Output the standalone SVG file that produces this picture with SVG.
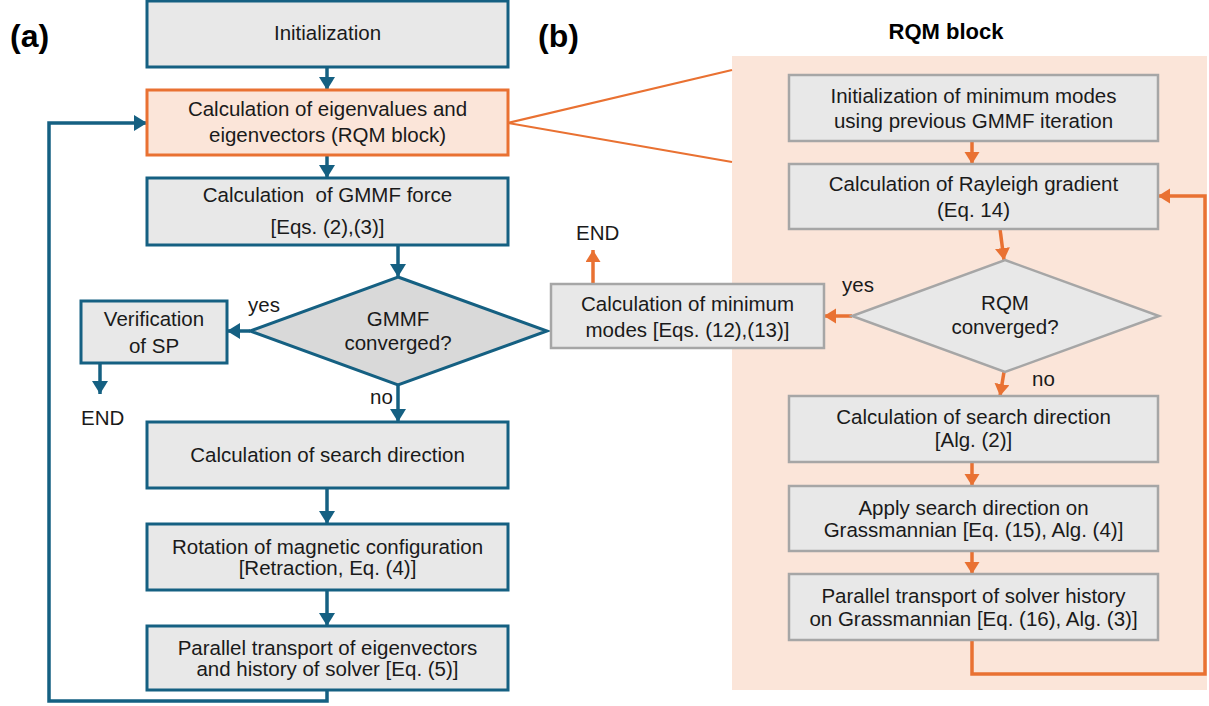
<svg xmlns="http://www.w3.org/2000/svg" width="1209" height="706" viewBox="0 0 1209 706">
<defs>
<style>
.t{font-family:"Liberation Sans",Arial,sans-serif;font-size:20.5px;fill:#1a1a1a;text-anchor:middle}
.l{font-family:"Liberation Sans",Arial,sans-serif;font-size:20.5px;fill:#1a1a1a}
.b{font-family:"Liberation Sans",Arial,sans-serif;font-weight:bold;fill:#000}
.bx{fill:#E8E8E8;stroke:#156082;stroke-width:3}
.gx{fill:#E8E8E8;stroke:#A6A6A6;stroke-width:2.5}
.bc{fill:none;stroke:#156082;stroke-width:3.5}
.oc{fill:none;stroke:#E97132;stroke-width:3.5}
</style>
<marker id="ab" markerUnits="userSpaceOnUse" markerWidth="14" markerHeight="17" refX="13" refY="8" orient="auto">
<path d="M0,0 L13,8 L0,16 z" fill="#156082"/>
</marker>
<marker id="ao" markerUnits="userSpaceOnUse" markerWidth="13" markerHeight="16" refX="12" refY="7.5" orient="auto">
<path d="M0,0 L12,7.5 L0,15 z" fill="#E97132"/>
</marker>
</defs>
<rect width="1209" height="706" fill="#fff"/>
<text class="b" x="10" y="47" font-size="32">(a)</text>
<text class="b" x="538" y="47" font-size="32">(b)</text>
<text class="b" x="946" y="39" font-size="22" text-anchor="middle">RQM block</text>
<rect id="rqm-region" x="732" y="56" width="475" height="634" fill="#FBE5D9"/>
<g id="callout">
<line x1="508" y1="123" x2="732" y2="70" stroke="#E97132" stroke-width="2.2"/>
<line x1="508" y1="123" x2="732" y2="162" stroke="#E97132" stroke-width="2.2"/>
</g>
<g id="connectors">
<line class="bc" x1="327" y1="67" x2="327" y2="90" marker-end="url(#ab)"/>
<line class="bc" x1="327" y1="155" x2="327" y2="178" marker-end="url(#ab)"/>
<line class="bc" x1="398" y1="245" x2="398" y2="277" marker-end="url(#ab)"/>
<line class="bc" x1="250" y1="331" x2="227" y2="331" marker-end="url(#ab)"/>
<line class="bc" x1="100" y1="363" x2="100" y2="394" marker-end="url(#ab)"/>
<line class="bc" x1="398" y1="385" x2="398" y2="422" marker-end="url(#ab)"/>
<line class="bc" x1="327" y1="488" x2="327" y2="524" marker-end="url(#ab)"/>
<line class="bc" x1="327" y1="590" x2="327" y2="626" marker-end="url(#ab)"/>
<polyline class="bc" points="327,690 327,701 49,701 49,123 147,123" marker-end="url(#ab)"/>
<line class="oc" x1="972" y1="141" x2="972" y2="164" marker-end="url(#ao)"/>
<line class="oc" x1="1000" y1="229" x2="1004" y2="260" marker-end="url(#ao)"/>
<line class="oc" x1="852" y1="316" x2="824" y2="316" marker-end="url(#ao)"/>
<line class="oc" x1="593" y1="284" x2="593" y2="250" marker-end="url(#ao)"/>
<line class="oc" x1="1004" y1="372" x2="1000" y2="396" marker-end="url(#ao)"/>
<line class="oc" x1="972" y1="462" x2="972" y2="486" marker-end="url(#ao)"/>
<line class="oc" x1="972" y1="551" x2="972" y2="574" marker-end="url(#ao)"/>
<polyline class="oc" points="972,640 972,674 1205,674 1205,196 1158,196" marker-end="url(#ao)"/>
</g>
<g id="a-init">
<rect class="bx" x="147" y="1" width="361" height="66"/>
<text class="t" x="327.5" y="40">Initialization</text>
</g>
<g id="a-rqm">
<rect x="147" y="90" width="361" height="65" fill="#FBE5D9" stroke="#E97132" stroke-width="3"/>
<text class="t" x="327.5" y="116">Calculation of eigenvalues and</text>
<text class="t" x="327.5" y="142">eigenvectors (RQM block)</text>
</g>
<g id="a-force">
<rect class="bx" x="147" y="178" width="361" height="67"/>
<text class="t" x="327.5" y="202" style="white-space:pre">Calculation  of GMMF force</text>
<text class="t" x="327.5" y="234">[Eqs. (2),(3)]</text>
</g>
<g id="a-decision">
<polygon points="398,277 547,331 398,385 250,331" fill="#D9D9D9" stroke="#156082" stroke-width="3"/>
<text class="t" x="398" y="326">GMMF</text>
<text class="t" x="398" y="350">converged?</text>
</g>
<g id="a-verify">
<rect class="bx" x="81" y="301" width="146" height="62"/>
<text class="t" x="154" y="326">Verification</text>
<text class="t" x="154" y="353">of SP</text>
</g>
<text class="l" x="248" y="312">yes</text>
<text class="l" x="370" y="404">no</text>
<text class="l" x="81" y="425">END</text>
<g id="a-search">
<rect class="bx" x="147" y="422" width="361" height="66"/>
<text class="t" x="327.5" y="462">Calculation of search direction</text>
</g>
<g id="a-rotate">
<rect class="bx" x="147" y="524" width="361" height="66"/>
<text class="t" x="327.5" y="554">Rotation of magnetic configuration</text>
<text class="t" x="327.5" y="575">[Retraction, Eq. (4)]</text>
</g>
<g id="a-transport">
<rect class="bx" x="147" y="626" width="361" height="64"/>
<text class="t" x="327.5" y="655">Parallel transport of eigenvectors</text>
<text class="t" x="327.5" y="676">and history of solver [Eq. (5)]</text>
</g>
<g id="b-init">
<rect class="gx" x="789" y="75" width="369" height="66"/>
<text class="t" x="973.5" y="103">Initialization of minimum modes</text>
<text class="t" x="973.5" y="128">using previous GMMF iteration</text>
</g>
<g id="b-gradient">
<rect class="gx" x="789" y="164" width="369" height="65"/>
<text class="t" x="973.5" y="191">Calculation of Rayleigh gradient</text>
<text class="t" x="973.5" y="217">(Eq. 14)</text>
</g>
<g id="b-decision">
<polygon points="1005,260 1159,316 1005,372 852,316" fill="#E8E8E8" stroke="#A6A6A6" stroke-width="2.5"/>
<text class="t" x="1005" y="310">RQM</text>
<text class="t" x="1005" y="334">converged?</text>
</g>
<g id="b-minmodes">
<rect class="gx" x="551" y="284" width="273" height="64"/>
<text class="t" x="687.5" y="311">Calculation of minimum</text>
<text class="t" x="687.5" y="337">modes [Eqs. (12),(13)]</text>
</g>
<text class="l" x="842" y="292">yes</text>
<text class="l" x="1032" y="386">no</text>
<text class="l" x="576" y="240">END</text>
<g id="b-search">
<rect class="gx" x="789" y="396" width="369" height="66"/>
<text class="t" x="973.5" y="424">Calculation of search direction</text>
<text class="t" x="973.5" y="447">[Alg. (2)]</text>
</g>
<g id="b-apply">
<rect class="gx" x="789" y="486" width="369" height="65"/>
<text class="t" x="973.5" y="515">Apply search direction on</text>
<text class="t" x="973.5" y="537">Grassmannian [Eq. (15), Alg. (4)]</text>
</g>
<g id="b-transport">
<rect class="gx" x="789" y="574" width="369" height="66"/>
<text class="t" x="973.5" y="603">Parallel transport of solver history</text>
<text class="t" x="973.5" y="626">on Grassmannian [Eq. (16), Alg. (3)]</text>
</g>
</svg>
